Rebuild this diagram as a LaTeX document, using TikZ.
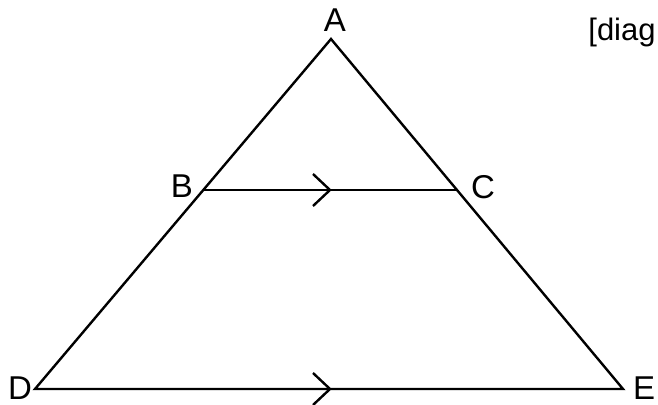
\documentclass[tikz,border=0pt]{standalone}
\usepackage{fontspec}
\setmainfont{Liberation Sans}
\usetikzlibrary{calc}
\tikzstyle{every node}=[font=\fontsize{16.5}{19}\selectfont,inner sep=0pt]
\tikzstyle{edge}=[line width=1.2pt,line join=miter]
\tikzstyle{tick}=[line width=1.2pt]

\begin{document}
\begin{tikzpicture}[x=0.5pt,y=-0.5pt]
        \useasboundingbox (0,0) rectangle (658,405);
        \coordinate (A) at (331,39);
        \coordinate (D) at (35,389);
        \coordinate (E) at (623,389);
        \coordinate (B) at ($(A)!0.4314!(D)$);
        \coordinate (C) at ($(A)!0.4314!(E)$);
        \node (la) at (335,20) {A};
        \node (lb) at (182,186) {B};
        \node (lc) at (483,187) {C};
        \node (ld) at (20,388) {D};
        \node (le) at (644,388) {E};
        \node[anchor=base east,font=\fontsize{15.5}{18}\selectfont] (note) at (656,41) {[diag};
        \draw[edge] (D)--(A)--(E)--cycle;
        \draw[edge] (B)--(C);
        % parallel marks
        \coordinate (bcmark) at (330,190);
        \coordinate (demark) at (330,389);
        \draw[tick] (bcmark) ++(-17,-16) -- (bcmark) -- ++(-17,16);
        \draw[tick] (demark) ++(-17,-16) -- (demark) -- ++(-17,16);
      \end{tikzpicture}
\end{document}
